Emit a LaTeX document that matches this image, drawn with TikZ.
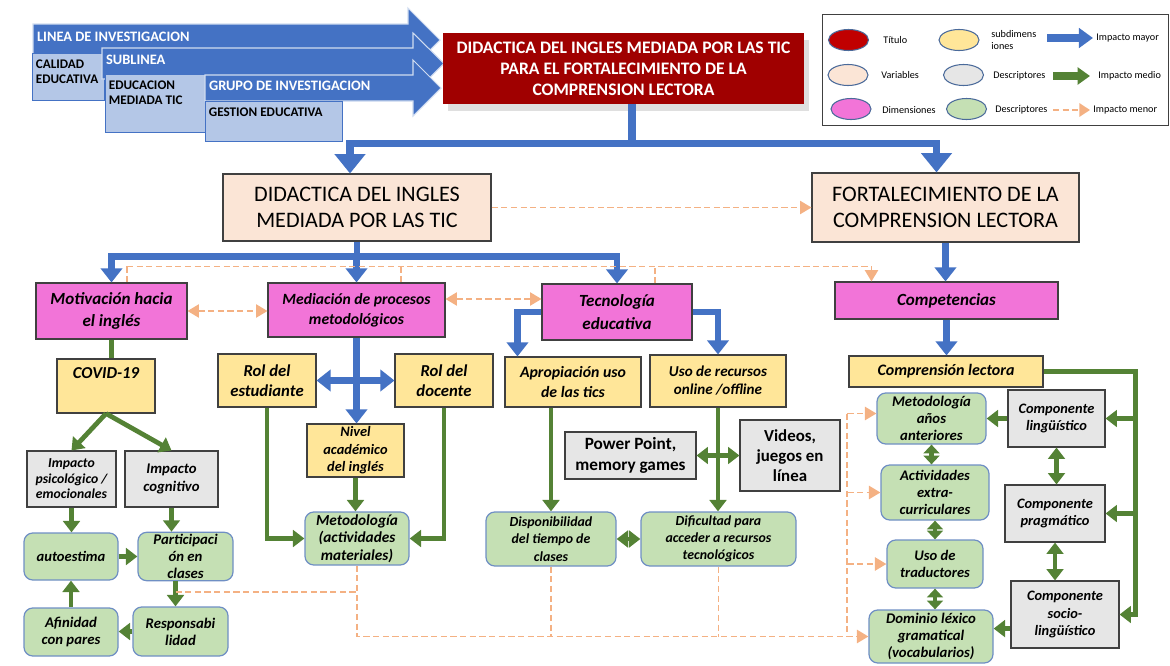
\documentclass[tikz,border=0pt]{standalone}
\usepackage{fontspec}
\setmainfont{Carlito}
\usetikzlibrary{arrows.meta,calc,shadows,shapes.geometric}

\definecolor{tblue}{HTML}{4472C4}
\definecolor{lblue}{HTML}{B4C7E7}
\definecolor{titlered}{HTML}{A00000}
\definecolor{legred}{HTML}{C00000}
\definecolor{varfill}{HTML}{FBE5D6}
\definecolor{dimfill}{HTML}{F274D8}
\definecolor{subfill}{HTML}{FFE699}
\definecolor{descgray}{HTML}{E6E6E6}
\definecolor{descgreen}{HTML}{C5E0B4}
\definecolor{greenedge}{HTML}{6F8FC4}
\definecolor{dgreen}{HTML}{548235}
\definecolor{peach}{HTML}{F4B183}
\definecolor{boxedge}{HTML}{404040}
\definecolor{legedge}{HTML}{4A6A9A}

\newcommand{\bisz}[2]{\fontsize{#1}{#2}\selectfont\bfseries\itshape}
\newcommand{\bfsz}[2]{\fontsize{#1}{#2}\selectfont\bfseries}

\tikzset{
  sz/.style 2 args={minimum width=#1*0.02cm, minimum height=#2*0.02cm},
  titlebox/.style={fill=titlered, text=white, align=center, inner sep=1pt, font=\bfsz{10}{12}},
  varbox/.style={draw=boxedge, fill=varfill, line width=0.6pt, align=center, inner sep=1pt, font=\fontsize{12.6}{14.7}\selectfont},
  dimbox/.style={draw=boxedge, fill=dimfill, line width=0.6pt, align=center, inner sep=1pt},
  subbox/.style={draw=boxedge, fill=subfill, line width=0.6pt, align=center, inner sep=1pt},
  graybox/.style={draw=boxedge, fill=descgray, line width=0.6pt, align=center, inner sep=1pt},
  greenbox/.style={draw=greenedge, fill=descgreen, line width=0.7pt, rounded corners=5pt, align=center, inner sep=1pt},
  lbox/.style={draw=tblue, fill=lblue, line width=0.5pt, inner sep=0pt},
  ltext/.style={anchor=north west, align=left, inner xsep=2pt, inner ysep=3.5pt, font=\bfsz{7.5}{8.5}},
  arrowtext/.style={anchor=west, inner sep=1pt, text=white, font=\bfsz{8.2}{10}},
  hdarrow/.style={fill=tblue, draw=tblue!25, line width=0.6pt},
  bline/.style={draw=tblue, line width=3.6pt},
  gline/.style={draw=dgreen, line width=2.7pt},
  pline/.style={draw=peach, line width=1.1pt, dash pattern=on 3.5pt off 2pt},
  bigtip/.tip={Triangle[width=17pt,length=11pt]},
  btip/.tip={Triangle[width=12pt,length=8pt]},
  gtip/.tip={Triangle[width=9.5pt,length=6.5pt]},
  stip/.tip={Triangle[width=9pt,length=5pt]},
  ptip/.tip={Triangle[width=7.5pt,length=6.5pt]},
  legell/.style={ellipse, draw=legedge, line width=0.6pt, sz={40}{21}, inner sep=0pt},
  legtext/.style={anchor=west, inner sep=0pt, align=left, font=\fontsize{5.8}{6.4}\selectfont},
}

\begin{document}
\begin{tikzpicture}[x=0.02cm, y=-0.02cm]
\useasboundingbox (0,0) rectangle (1170,666);

% header arrows
\draw[hdarrow] (33,24) -- (408,24) -- (408,8) -- (440,40) -- (408,72) -- (408,56) -- (33,56) -- cycle;
\node[arrowtext] (linea) at (35,37) {LINEA DE INVESTIGACION};
\node[lbox, sz={72}{47}, anchor=north west] (calidad) at (32,53) {};
\node[ltext] (calidadt) at (calidad.north west) {CALIDAD\\EDUCATIVA};
\draw[hdarrow] (102,48) -- (413,48) -- (413,33) -- (444,63.5) -- (413,94) -- (413,79) -- (102,79) -- cycle;
\node[arrowtext] (sublinea) at (104,60) {SUBLINEA};
\node[lbox, sz={100}{58}, anchor=north west] (educ) at (105,74) {};
\node[ltext] (educt) at (educ.north west) {EDUCACION\\MEDIADA TIC};
\draw[hdarrow] (205,75) -- (413,75) -- (413,60) -- (441,88) -- (413,116) -- (413,101) -- (205,101) -- cycle;
\node[arrowtext] (grupo) at (207,86) {GRUPO DE INVESTIGACION};
\node[lbox, sz={137}{40}, anchor=north west] (gestion) at (205,101) {};
\node[ltext] (gestiont) at (gestion.north west) {GESTION EDUCATIVA};

% title
\node[titlebox, sz={361}{71}, drop shadow={shadow xshift=3pt, shadow yshift=-4pt, opacity=0.25}] (title) at (623.5,68.5)
  {DIDACTICA DEL INGLES MEDIADA POR LAS TIC\\PARA EL FORTALECIMIENTO DE LA\\COMPRENSION LECTORA};

% legend
\node[draw=boxedge, line width=0.7pt, fill=white, sz={346}{111}, anchor=north west] (legend) at (822,14) {};
\node[legell, fill=legred] (lgred) at (848.5,40) {};
\node[legtext] (lgtitulo) at (883,40) {Título};
\node[legell, fill=subfill] (lgyel) at (959,40) {};
\node[legtext] (lgsub) at (991,40) {subdimens\\iones};
\coordinate (lgb1) at (1047,38);
\coordinate (lgb2) at (1093,38);
\draw[draw=tblue, line width=5pt, -{Triangle[width=11pt,length=8pt]}] (lgb1) -- (lgb2);
\node[legtext] (lgmayor) at (1096,38) {Impacto mayor};
\node[legell, fill=varfill] (lgvar) at (848,75) {};
\node[legtext] (lgvart) at (881,75) {Variables};
\node[legell, fill=descgray] (lggray) at (963.5,75) {};
\node[legtext] (lggrayt) at (993,76) {Descriptores};
\coordinate (lgg1) at (1053,76);
\coordinate (lgg2) at (1090,76);
\draw[draw=dgreen, line width=4.5pt, -{Triangle[width=9.5pt,length=7pt]}] (lgg1) -- (lgg2);
\node[legtext] (lgmedio) at (1098,76) {Impacto medio};
\node[legell, fill=dimfill] (lgpink) at (851,109) {};
\node[legtext] (lgpinkt) at (882,110) {Dimensiones};
\node[legell, fill=descgreen] (lggreen) at (966.5,109) {};
\node[legtext] (lggreent) at (995,110) {Descriptores};
\coordinate (lgp1) at (1053,110);
\coordinate (lgp2) at (1090,110);
\draw[pline, -{Triangle[width=7.5pt,length=6pt]}] (lgp1) -- (lgp2);
\node[legtext] (lgmenor) at (1093,110) {Impacto menor};

% variables
\node[varbox, sz={268}{67}] (didac) at (357,207.5) {DIDACTICA DEL INGLES\\MEDIADA POR LAS TIC};
\node[varbox, sz={267}{69}] (fort) at (945.5,207.5) {FORTALECIMIENTO DE LA\\COMPRENSION LECTORA};

% dimensiones
\node[dimbox, sz={151}{56}, font=\bisz{9.7}{13}] (motiv) at (111.5,311) {Motivación hacia\\el inglés};
\node[dimbox, sz={177}{54}, font=\bisz{8.9}{11.3}] (medi) at (356.5,310) {Mediación de procesos\\metodológicos};
\node[dimbox, sz={150}{56}, font=\bisz{9.7}{13}] (tecno) at (617,312) {Tecnología\\educativa};
\node[dimbox, sz={223}{37}, font=\bisz{9.7}{12}] (comp) at (946.5,300.5) {Competencias};

% subdimensiones
\node[subbox, sz={98}{54}, label={[font=\bisz{9.5}{11}, anchor=north, inner sep=0pt, yshift=-5pt]north:COVID-19}] (covid) at (106,386) {};
\node[subbox, sz={98}{53}, font=\bisz{9.5}{11.5}] (rolest) at (267,380.5) {Rol del\\estudiante};
\node[subbox, sz={98}{53}, font=\bisz{9.5}{11.5}] (roldoc) at (444,380.5) {Rol del\\docente};
\node[subbox, sz={97}{53}, font=\bisz{8.2}{10}] (nivel) at (355.5,450.5) {Nivel\\académico\\del inglés};
\node[subbox, sz={136}{50}, font=\bisz{9}{11.3}] (apro) at (573,382) {Apropiación uso\\de las tics};
\node[subbox, sz={136}{52}, font=\bisz{8.6}{10.2}] (uso) at (718,381) {Uso de recursos\\online /offline};
\node[subbox, sz={194}{31}, font=\bisz{9.1}{11}] (compr) at (946,371.5) {Comprensión lectora};

% descriptores grises
\node[graybox, sz={89}{56}, font=\bisz{7.8}{8.8}] (psico) at (71.5,479) {Impacto\\psicológico /\\emocionales};
\node[graybox, sz={93}{56}, font=\bisz{8.4}{10}] (cogn) at (171.5,479) {Impacto\\cognitivo};
\node[graybox, sz={131}{47}, font=\bfsz{9.8}{12.3}] (power) at (630.5,455.5) {Power Point,\\memory games};
\node[graybox, sz={100}{71}, font=\bfsz{9.6}{11.3}] (videos) at (790,455.5) {Videos,\\juegos en\\línea};
\node[graybox, sz={97}{57}, font=\bisz{8.2}{9.6}] (ling) at (1056.5,418.5) {Componente\\lingüístico};
\node[graybox, sz={100}{57}, font=\bisz{8.2}{9.6}] (prag) at (1055,513.5) {Componente\\pragmático};
\node[graybox, sz={108}{67}, font=\bisz{8.2}{10}] (socio) at (1065,614.5) {Componente\\socio-\\lingüístico};

% descriptores verdes
\node[greenbox, sz={94}{47}, font=\bisz{8.3}{9.8}] (autoest) at (71,556.5) {autoestima};
\node[greenbox, sz={95}{47}, font=\bisz{8.4}{9.8}] (partic) at (185.5,556.5) {Participaci\\ón en\\clases};
\node[greenbox, sz={94}{48}, font=\bisz{8.4}{9.8}] (afin) at (71,632) {Afinidad\\con pares};
\node[greenbox, sz={95}{49}, font=\bisz{8.4}{9.8}] (respons) at (180.5,631.5) {Responsabi\\lidad};
\node[greenbox, sz={104}{53}, font=\bisz{8.7}{10}] (metod) at (357,538.5) {Metodología\\(actividades\\materiales)};
\node[greenbox, sz={130}{54}, font=\bisz{7.9}{9.8}] (dispo) at (551,539) {Disponibilidad\\del tiempo de\\clases};
\node[greenbox, sz={155}{54}, font=\bisz{7.9}{9.8}] (dific) at (718.5,539) {Dificultad para\\acceder a recursos\\tecnológicos};
\node[greenbox, sz={109}{51}, font=\bisz{8.4}{9.8}] (metanos) at (931.5,418.5) {Metodología\\años\\anteriores};
\node[greenbox, sz={108}{55}, font=\bisz{8.3}{9.8}] (activ) at (935,492.5) {Actividades\\extra-\\curriculares};
\node[greenbox, sz={96}{48}, font=\bisz{8.3}{9.8}] (trad) at (935,564) {Uso de\\traductores};
\node[greenbox, sz={124}{53}, font=\bisz{8.4}{9.8}] (dominio) at (931,636.5) {Dominio léxico\\gramatical\\(vocabularios)};

% impacto mayor
\coordinate (ts) at ($(title.south)+(8.5,0)$);
\coordinate (tb) at ($(ts)+(0,39)$);
\draw[bline, line width=4.2pt] (ts) -- (tb);
\draw[bline, line width=4.2pt, -bigtip] (tb) -| ($(didac.north)+(-7,0)$);
\draw[bline, line width=4.2pt, -bigtip] (tb) -| ($(fort.north)+(-9,0)$);
\coordinate (db) at ($(didac.south)+(0,15)$);
\draw[bline] (didac.south) -- (db);
\draw[bline, -btip] (db) -| (motiv.north);
\draw[bline, -btip] (db) -| (tecno.north);
\draw[bline, -btip] (db -| medi.north) -- (medi.north);
\draw[bline, -btip] (fort.south) -- (fort.south |- comp.north);
\draw[bline, -btip] (comp.south) -- (comp.south |- compr.north);
\draw[bline, -btip] (tecno.west) -| ($(apro.north west)+(13,0)$);
\draw[bline, -btip] (tecno.east) -| (uso.north);
\draw[bline, -btip] (medi.south) -- (medi.south |- nivel.north);
\draw[bline, btip-btip] (rolest.east) -- (roldoc.west);

% impacto medio
\draw[gline] (motiv.south) -- (motiv.south |- covid.north);
\draw[gline, -gtip] (covid.south) -- (psico.north);
\draw[gline, -gtip] (covid.south) -- (cogn.north);
\draw[gline, -gtip] (psico.south) -- (psico.south |- autoest.north);
\draw[gline, -gtip] (cogn.south) -- (cogn.south |- partic.north);
\draw[gline, -gtip] (autoest.east) -- (partic.west);
\coordinate (pr) at ($(respons.north)+(-5,0)$);
\draw[gline, -gtip] (pr |- partic.south) -- (pr);
\draw[gline, -gtip] (respons.west) -- (respons.west -| afin.east);
\draw[gline, -gtip] (afin.north) -- (afin.north |- autoest.south);
\draw[gline, -gtip] (rolest.south) |- (metod.west);
\draw[gline, -gtip] (roldoc.south) |- (metod.east);
\draw[gline, -gtip] (nivel.south) -- (nivel.south |- metod.north);
\draw[gline, -gtip] (dispo.north |- apro.south) -- (dispo.north);
\draw[gline, -gtip] (uso.south) -- (uso.south |- dific.north);
\draw[gline, gtip-gtip] (power.east) -- (videos.west);
\draw[gline, gtip-gtip] (dispo.east) -- (dific.west);
\draw[gline, -gtip] (compr.east) -- ++(92,0) coordinate (cr) |- (socio.east);
\draw[gline, -gtip] (cr |- ling.east) -- (ling.east);
\draw[gline, -gtip] (cr |- prag.east) -- (prag.east);
\draw[gline, -gtip] (ling.west) -- (metanos.east);
\draw[gline, gtip-gtip] (ling.south) -- (ling.south |- prag.north);
\draw[gline, gtip-gtip] (prag.south) -- (prag.south |- socio.north);
\draw[gline, -gtip] ([yshift=-8pt]socio.west) -- ([yshift=-8pt]socio.west -| dominio.east);
\draw[gline, stip-stip] (metanos.south) -- (metanos.south |- activ.north);
\draw[gline, stip-stip] (activ.south) -- (activ.south |- trad.north);
\draw[gline, stip-stip] (trad.south) -- (trad.south |- dominio.north);

% impacto menor
\draw[pline, -ptip] (didac.east) -- (fort.west);
\coordinate (dl) at ($(motiv.north)+(15.5,-16)$);
\draw[pline, -ptip] (dl) -| ($(comp.north west)+(37,0)$);
\draw[pline] (dl) -- (dl |- motiv.north);
\draw[pline] ($(medi.north)+(44.5,0)$) -- ++(0,-16);
\draw[pline] ($(tecno.north)+(38,0)$) -- ++(0,-16);
\draw[pline, ptip-ptip] (motiv.east) -- (motiv.east -| medi.west);
\coordinate (mt) at ($(medi.east)+(0,-11)$);
\draw[pline, ptip-ptip] (mt) -- (mt -| tecno.west);
\draw[pline, -ptip] (metod.south) |- (dominio.west);
\draw[pline] (dispo.south) -- (dispo.south |- dominio.west);
\draw[pline] (dific.south) -- (dific.south |- dominio.west);
\coordinate (pd) at ($(partic.south)+(-10,11)$);
\draw[pline] (pd) -- (pd -| metod.south);
\coordinate (rv) at ($(metanos.west)+(-29,-5)$);
\draw[pline] (rv) -- (rv |- dominio.west);
\draw[pline, -ptip] (rv) -- (rv -| metanos.west);
\draw[pline, -ptip] (rv |- activ.west) -- (activ.west);
\draw[pline, -ptip] (rv |- trad.west) -- (trad.west);
\end{tikzpicture}
\end{document}
